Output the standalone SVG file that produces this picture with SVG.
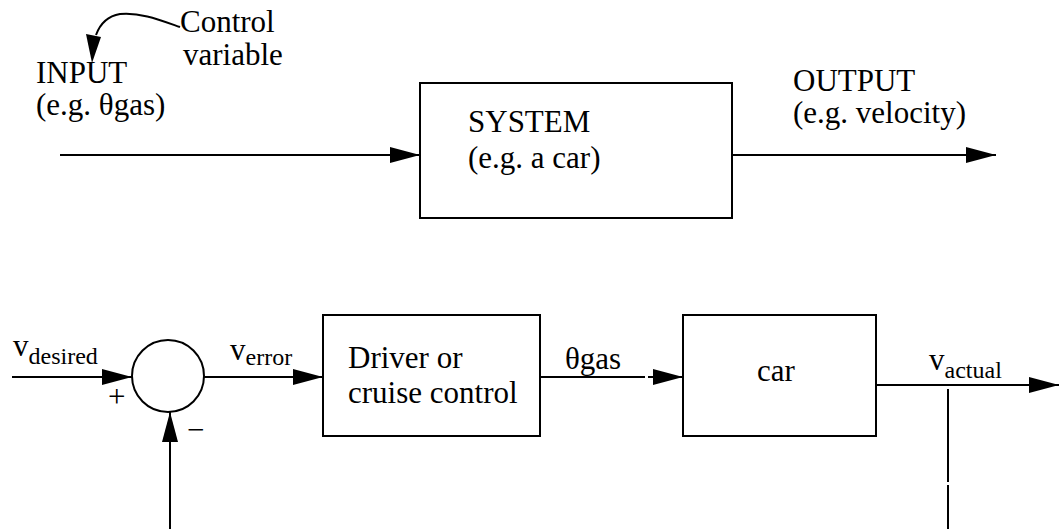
<svg xmlns="http://www.w3.org/2000/svg" width="1059" height="529" viewBox="0 0 1059 529">
  <style>
    text { font-family: "Liberation Serif", "Times New Roman", serif; font-size: 31px; fill: #000; }
    .sub { font-size: 24px; }
    .box { fill: #fff; stroke: #000; stroke-width: 2; }
    .wire { fill: none; stroke: #000; stroke-width: 2; }
    .head { fill: #000; stroke: none; }
  </style>
  <defs>
    <marker id="arrow" markerUnits="userSpaceOnUse" markerWidth="30" markerHeight="16" refX="30" refY="8" orient="auto" viewBox="0 0 30 16">
      <path d="M0,0 L30,8 L0,16 z" class="head"/>
    </marker>
  </defs>
  <rect width="1059" height="529" fill="#fff"/>

  <g id="connectors">
    <path class="wire" d="M180,27 C160,20 140,12 120,14 C108,16 100,24 96,35"/>
    <polygon class="head" points="86,34 101,37 92,63"/>
    <line class="wire" x1="60" y1="155" x2="420" y2="155" marker-end="url(#arrow)"/>
    <line class="wire" x1="732" y1="155" x2="996" y2="155" marker-end="url(#arrow)"/>
    <line class="wire" x1="12" y1="377" x2="132" y2="377" marker-end="url(#arrow)"/>
    <line class="wire" x1="204" y1="377" x2="323" y2="377" marker-end="url(#arrow)"/>
    <line class="wire" x1="540" y1="377" x2="645" y2="377"/>
    <line class="wire" x1="648" y1="377" x2="683" y2="377" marker-end="url(#arrow)"/>
    <line class="wire" x1="876" y1="385" x2="1059" y2="385" marker-end="url(#arrow)"/>
    <line class="wire" x1="170" y1="529" x2="170" y2="412" marker-end="url(#arrow)"/>
    <line class="wire" x1="948" y1="389" x2="948" y2="482"/>
    <line class="wire" x1="948" y1="485" x2="948" y2="529"/>
  </g>

  <g id="control-label">
    <text x="180" y="32">Control</text>
    <text x="183" y="65">variable</text>
  </g>
  <g id="input-label">
    <text x="36" y="83">INPUT</text>
    <text x="36" y="115">(e.g. θgas)</text>
  </g>
  <g id="system">
    <rect class="box" x="420" y="83" width="312" height="135"/>
    <text x="468" y="132">SYSTEM</text>
    <text x="468" y="168">(e.g. a car)</text>
  </g>
  <g id="output-label">
    <text x="793" y="91">OUTPUT</text>
    <text x="793" y="123">(e.g. velocity)</text>
  </g>

  <g id="v-desired">
    <text x="13" y="356">v<tspan class="sub" dy="8">desired</tspan></text>
  </g>
  <g id="summing-junction">
    <circle class="box" cx="168" cy="376" r="36"/>
    <text x="108" y="407">+</text>
    <text x="187" y="440">−</text>
  </g>
  <g id="v-error">
    <text x="230" y="360">v<tspan class="sub" dy="5">error</tspan></text>
  </g>
  <g id="driver">
    <rect class="box" x="323" y="315" width="217" height="121"/>
    <text x="348" y="368">Driver or</text>
    <text x="348" y="403">cruise control</text>
  </g>
  <g id="theta-gas">
    <text x="565" y="369">θgas</text>
  </g>
  <g id="car">
    <rect class="box" x="683" y="315" width="193" height="121"/>
    <text x="757" y="381">car</text>
  </g>
  <g id="v-actual">
    <text x="929" y="370">v<tspan class="sub" dy="8">actual</tspan></text>
  </g>
</svg>
